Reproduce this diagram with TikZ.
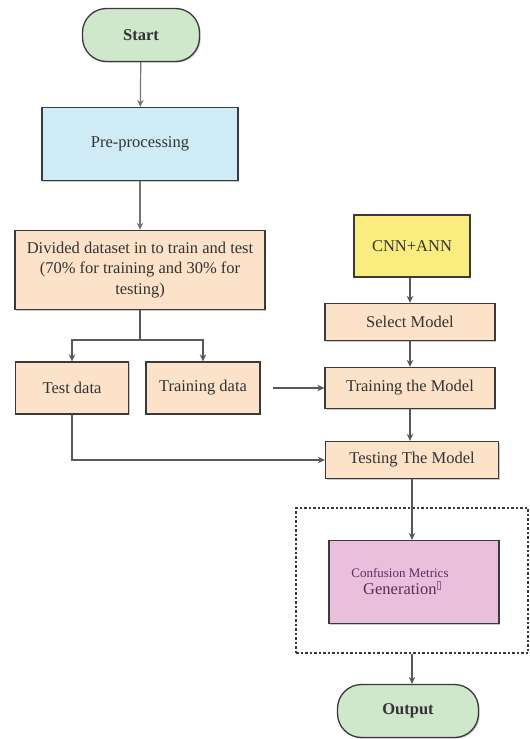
\documentclass[tikz,border=0pt]{standalone}
\usepackage{fontspec}
\setmainfont{Liberation Serif}
\usetikzlibrary{arrows.meta,shadows}
\definecolor{bordc}{HTML}{3A3A3A}
\definecolor{txtc}{HTML}{333333}
\definecolor{greenf}{HTML}{CFE8CB}
\definecolor{bluef}{HTML}{CFEBF6}
\definecolor{peachf}{HTML}{FBE2C8}
\definecolor{yellowf}{HTML}{FAEC7E}
\definecolor{pinkf}{HTML}{EABFDC}
\definecolor{pinkt}{HTML}{5B2D5B}
\newcommand{\missglyph}{\raisebox{6pt}{\color{pinkt!70}\fboxsep=0pt\fboxrule=0.4pt\fbox{\rule{0pt}{7pt}\rule{3.5pt}{0pt}}}}
\begin{document}
\begin{tikzpicture}[x=1pt,y=-1pt,
  base/.style={draw=bordc,line width=1.3pt,text=txtc,inner sep=0pt,align=center,
    font=\fontsize{16.5}{20.5}\selectfont,
    drop shadow={shadow xshift=1.2pt,shadow yshift=-1.2pt,fill=black!35,opacity=0.6}},
  pill/.style={base,fill=greenf,rounded corners=24pt,font=\fontsize{16.5}{18}\selectfont\bfseries},
  boxb/.style={base,fill=bluef},
  boxp/.style={base,fill=peachf},
  boxy/.style={base,fill=yellowf},
  boxk/.style={base,fill=pinkf,text=pinkt},
  conn/.style={draw=bordc!85,line width=1.2pt},
  arr/.style={conn,-{Stealth[length=7pt,width=6.5pt]}}
]
\useasboundingbox (0,0) rectangle (530,739);
\fill[white] (0,0) rectangle (530,739);

\node[pill,minimum width=117pt,minimum height=53pt] (start) at (141,35) {Start};
\node[boxb,minimum width=196pt,minimum height=73pt] (pre) at (140,144) {Pre-processing};
\node[boxp,minimum width=250pt,minimum height=79pt] (div) at (140,270)
  {Divided dataset in to train and test\\(70\% for training and 30\% for\\testing)};
\node[boxp,minimum width=113pt,minimum height=52pt] (testd) at (72,388) {Test data};
\node[boxp,minimum width=114pt,minimum height=52pt] (traind) at (203,388) {Training data};
\node[boxy,minimum width=116pt,minimum height=62pt] (cnn) at (412,246) {CNN+ANN};
\node[boxp,minimum width=170pt,minimum height=37pt] (sel) at (410,322) {Select Model};
\node[boxp,minimum width=170pt,minimum height=41pt] (trm) at (410,388) {Training the Model};
\node[boxp,minimum width=173pt,minimum height=37pt] (tsm) at (412,460) {Testing The Model};
\node[draw=bordc,line width=1.2pt,dash pattern=on 2.5pt off 2pt,minimum width=232pt,minimum height=145pt,inner sep=0pt] (dbox) at (412,580.5) {};
\node[boxk,minimum width=170pt,minimum height=83pt] (conf) at (414,582)
  {\raisebox{9pt}{\hspace*{-28pt}\begin{tabular}{@{}c@{}}{\fontsize{13}{14}\selectfont Confusion Metrics}\\[-3pt]
   \hspace*{4pt}Generation\missglyph\end{tabular}}};
\node[pill,minimum width=141pt,minimum height=53pt] (out) at (408,711) {Output};

\draw[arr,draw=bordc!70] (start) -- (pre);
\draw[arr,draw=bordc!70] (pre) -- (div);
\coordinate (split) at (140,340);
\draw[conn] (div.south) -- (split);
\draw[arr] (split) -| (testd.north);
\draw[arr] (split) -| (traind.north);
\draw[arr,shorten <=12pt] (traind) -- (trm);
\draw[arr] (cnn.south -| sel.north) -- (sel.north);
\draw[arr] (sel) -- (trm);
\draw[arr] (trm) -- (trm.south |- tsm.north);
\draw[arr] (testd.south) |- (tsm.west);
\draw[arr] (tsm.south) -- (tsm.south |- conf.north);
\draw[arr] (dbox.south) -- (dbox.south |- out.north);
\end{tikzpicture}
\end{document}
